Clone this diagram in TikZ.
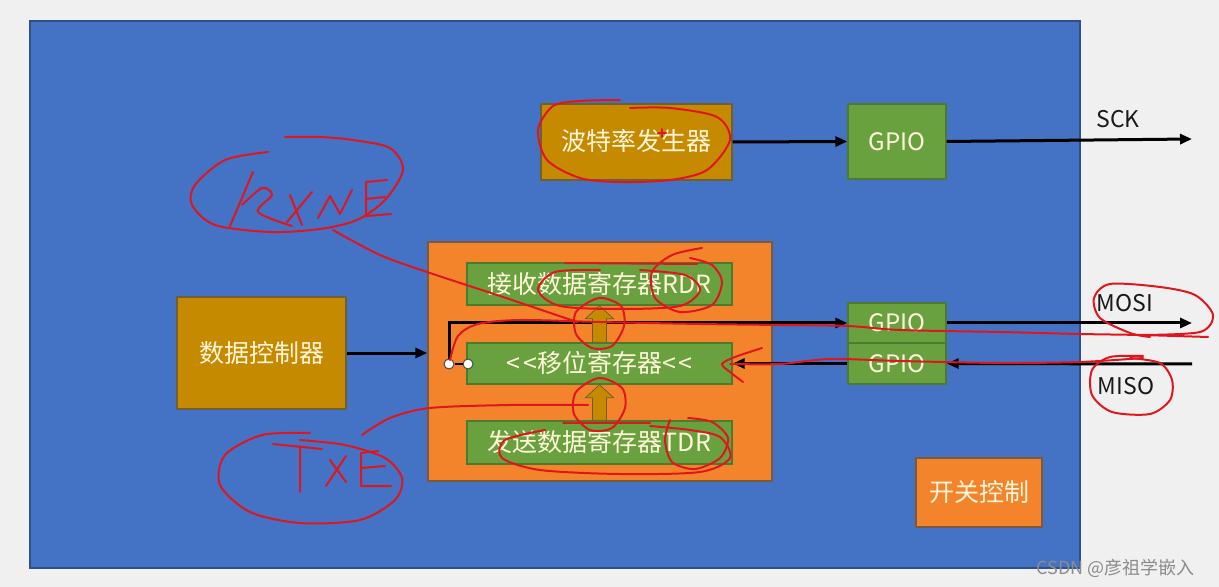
\documentclass[tikz,border=0pt]{standalone}
\usepackage{fontspec}
\setmainfont{Noto Sans CJK SC}
\usetikzlibrary{arrows.meta,fit,calc}
\definecolor{bg}{HTML}{F0F0F0}
\definecolor{chipblue}{HTML}{4472C4}
\definecolor{chipedge}{HTML}{2F4F8A}
\definecolor{gold}{HTML}{C58A00}
\definecolor{goldedge}{HTML}{6E6030}
\definecolor{orng}{HTML}{F4842C}
\definecolor{orngedge}{HTML}{7A5A3A}
\definecolor{grn}{HTML}{6AA13F}
\definecolor{grnedge}{HTML}{4E7A2E}
\definecolor{cream}{HTML}{FFF6DA}
\definecolor{ink}{HTML}{E0161E}
\begin{document}
\begin{tikzpicture}[x=0.5pt,y=-0.5pt,
  blk/.style={inner sep=0pt, line width=0.7pt},
  goldbox/.style={blk, fill=gold, draw=goldedge},
  orbox/.style={blk, fill=orng, draw=orngedge},
  grbox/.style={blk, fill=grn, draw=grnedge},
  lbl/.style={anchor=base, inner sep=0pt, text=cream, font=\fontsize{12.5}{14}\selectfont},
  glbl/.style={lbl, font=\fontsize{12}{14}\selectfont},
  sig/.style={font=\fontsize{11.5}{13}\selectfont, text=black!90},
  wire/.style={line width=1.5pt, draw=black},
  arr/.style={wire, -{Triangle[length=6pt,width=5pt]}},
  pin/.style={circle, draw=black!70, fill=white, line width=0.5pt, inner sep=0pt, minimum size=5pt},
  blockarrow/.style={fill=gold, draw=goldedge, line width=0.4pt},
  pen/.style={draw=ink, line width=1pt, line cap=round, line join=round}]
\useasboundingbox (0,0) rectangle (1219,587);
\fill[bg] (0,0) rectangle (1219,587);
% chip body
\node[fill=chipblue, draw=chipedge, line width=0.8pt, inner sep=0pt, fit={(30,21)(1080,568)}] (chip) {};
% blocks
\node[goldbox, fit={(541,104)(732,180)}] (baud) {};
\node[grbox, fit={(848,104)(946,179)}] (gpio1) {};
\node[orbox, fit={(428,242)(772,481)}] (core) {};
\node[grbox, fit={(467,263)(732,305)}] (rdr) {};
\node[grbox, fit={(467,343)(732,384)}] (shift) {};
\node[grbox, fit={(467,421)(732,464)}] (tdr) {};
\node[goldbox, fit={(177,297)(346,409)}] (ctrl) {};
\node[grbox, fit={(848,303)(946,343)}] (gpio2) {};
\node[grbox, fit={(848,343)(946,384)}] (gpio3) {};
\node[orbox, fit={(916,458)(1042,527)}] (sw) {};
% labels
\node[lbl] (baudT) at ($(baud.center)+(0,9)$) {波特率发生器};
\node[glbl] (gpio1T) at ($(gpio1.center)+(0,9)$) {GPIO};
\node[lbl] (rdrT) at ($(rdr.center)+(0,9)$) {接收数据寄存器RDR};
\node[lbl] (shiftT) at ($(shift.center)+(0,9)$) {<\kern1.5pt<\kern0pt移位寄存器<\kern1.5pt<};
\node[lbl] (tdrT) at ($(tdr.center)+(0,9)$) {发送数据寄存器TDR};
\node[lbl] (ctrlT) at ($(ctrl.center)+(0,9)$) {数据控制器};
\node[glbl] (gpio2T) at ($(gpio2.center)+(0,9)$) {GPIO};
\node[glbl] (gpio3T) at ($(gpio3.center)+(0,9)$) {GPIO};
\node[lbl] (swT) at ($(sw.center)+(0,9)$) {开关控制};
% outside ends
\coordinate (sckend) at (1192,139);
\coordinate (mosiend) at (1192,323);
\coordinate (misoend) at (1192,364);
\node[sig, anchor=base] (sck) at (1118,128) {SCK};
\node[sig, anchor=base] (mosi) at (1125,312) {MOSI};
\node[sig, anchor=base] (miso) at (1126,394) {MISO};
% connectors
\draw[arr] (baud.east) -- (gpio1.west);
\draw[arr] (gpio1.east) -- (sckend);
\draw[arr] (ctrl.east) -- (ctrl.east -| core.west);
\node[pin] (p1) at (449,364) {};
\node[pin] (p2) at (468,364) {};
\draw[line width=1pt] (p1) -- (p2);
\draw[arr] (p1.north) |- (gpio2.west);
\draw[arr] (gpio2.east) -- (mosiend);
\draw[arr] (misoend) -- (gpio3.east);
\draw[arr] (gpio3.west) -- (shift.east);
% block arrows
\filldraw[blockarrow] ($(shift.north)+(-7,0)$) -- ($(rdr.south)+(-7,13)$) -- ($(rdr.south)+(-14,13)$) -- (rdr.south) -- ($(rdr.south)+(14,13)$) -- ($(rdr.south)+(7,13)$) -- ($(shift.north)+(7,0)$) -- cycle;
\filldraw[blockarrow] ($(tdr.north)+(-7,0)$) -- ($(shift.south)+(-7,13)$) -- ($(shift.south)+(-14,13)$) -- (shift.south) -- ($(shift.south)+(14,13)$) -- ($(shift.south)+(7,13)$) -- ($(tdr.north)+(7,0)$) -- cycle;
% watermark
\node[font=\fontsize{9}{10}\selectfont, text=black!45, anchor=base east] (wm) at (1202,574) {CSDN @彦祖学嵌入};
% ---- red handwritten annotations ----
\draw[pen] plot[smooth] coordinates {(620,100) (580,101) (553,106) (538,130) (547,160) (580,178) (620,182) (670,180) (707,170) (730,140) (717,117) (670,108) (630,108)};
\draw[pen] (658,133) -- (666,133) (662,129) -- (662,137);
% RXNE
\draw[pen] plot[smooth] coordinates {(268,152) (225,160) (195,185) (192,205) (215,225) (270,232) (320,229) (357,220) (385,200) (403,170) (390,148) (353,140) (320,137) (285,137)};
\draw[pen] (253,172) -- (230,226);
\draw[pen] plot[smooth] coordinates {(242,205) (262,188) (272,195) (258,212) (292,226)};
\draw[pen] (290,195) -- (302,225) (312,192) -- (287,222);
\draw[pen] plot coordinates {(318,218) (330,196) (340,214) (352,190)};
\draw[pen] (387,180) -- (366,182) -- (366,216) -- (391,214) (366,199) -- (385,197);
\draw[pen] plot[smooth] coordinates {(333,230) (380,255) (430,273) (500,296) (577,322)};
% TXE
\draw[pen] plot[smooth] coordinates {(310,433) (262,435) (225,455) (220,485) (250,512) (300,523) (360,520) (395,500) (402,478) (385,458) (345,445) (300,440)};
\draw[pen] (273,444) -- (322,449) (300,446) -- (300,492);
\draw[pen] (330,460) -- (346,482) (346,456) -- (326,486);
\draw[pen] (378,451) -- (361,453) -- (361,486) -- (391,486) (361,468) -- (385,466);
\draw[pen] plot[smooth] coordinates {(362,435) (390,418) (430,408) (510,405) (588,405)};
% around RDR
\draw[pen] (565,263) -- (697,264);
\draw[pen] plot[smooth] coordinates {(600,270) (555,272) (538,290) (560,306) (620,309) (680,306) (700,290) (685,275) (640,270)};
\draw[pen] plot[smooth] coordinates {(702,248) (672,255) (652,272) (655,298) (680,312) (712,305) (722,282) (712,265) (690,258)};
% arrow circles
\draw[pen] plot[smooth cycle] coordinates {(599,298) (621,306) (624,326) (612,346) (592,348) (576,334) (576,312)};
\draw[pen] plot[smooth cycle] coordinates {(599,378) (622,388) (625,408) (612,428) (590,430) (574,414) (576,392)};
% along the MOSI path
\draw[pen] plot[smooth] coordinates {(450,360) (458,336) (478,324) (520,320) (600,322) (700,324) (780,325) (848,326) (900,330) (1000,332) (1080,334) (1140,335) (1208,337)};
\draw[pen] plot[smooth] coordinates {(1140,335) (1200,332) (1213,315) (1195,295) (1160,287) (1110,284) (1094,298) (1100,318) (1130,333) (1150,337)};
% MISO path
\draw[pen] plot[smooth] coordinates {(762,348) (735,357) (722,364) (730,372) (743,382)};
\draw[pen] plot[smooth] coordinates {(730,364) (780,364) (830,359) (900,361) (1000,363) (1080,362) (1143,358)};
\draw[pen] plot[smooth] coordinates {(1143,356) (1110,357) (1092,370) (1092,395) (1112,412) (1150,414) (1170,400) (1172,380) (1160,363) (1130,358)};
% around TDR
\draw[pen] (563,423) -- (650,423);
\draw[pen] plot[smooth] coordinates {(545,430) (505,440) (502,458) (540,470) (620,474) (700,472) (730,458) (720,437) (690,430) (650,426)};
\draw[pen] plot[smooth] coordinates {(670,420) (665,440) (672,462) (695,469) (720,458) (728,438) (712,422) (688,418)};
\end{tikzpicture}
\end{document}
